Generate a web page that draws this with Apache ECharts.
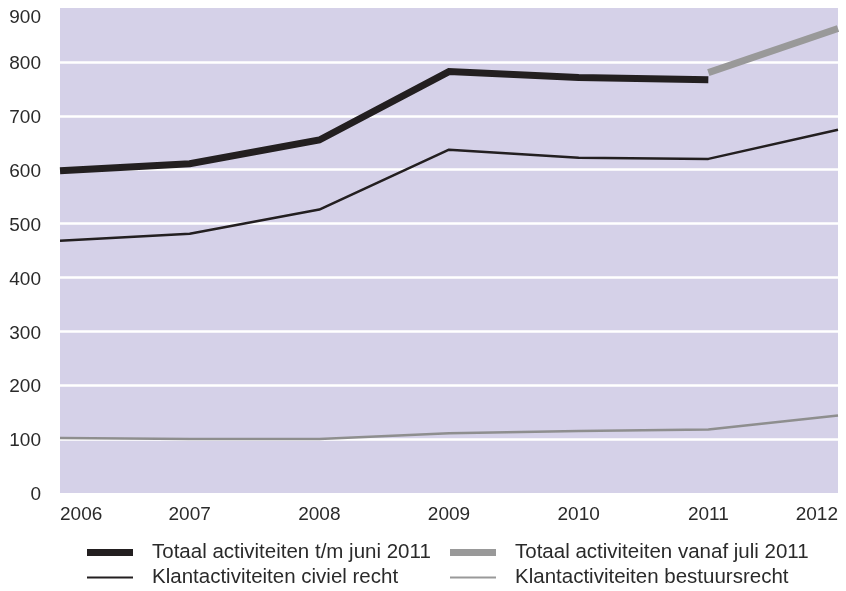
<!DOCTYPE html>
<html>
<head>
<meta charset="utf-8">
<script src="https://cdn.jsdelivr.net/npm/echarts@6/dist/echarts.min.js"></script>
<style>
  html, body { margin: 0; padding: 0; background: #ffffff; }
  #chart { width: 846px; height: 591px; }
</style>
</head>
<body>
<div id="chart"></div>
<script>
// Activity counts per year
const years = ['2006', '2007', '2008', '2009', '2010', '2011', '2012'];
const totaalTotJuni2011 = [598, 611, 655, 782, 771, 767, null];
const totaalVanafJuli2011 = [null, null, null, null, null, 780, 862];
const civielRecht = [468, 481, 526, 637, 622, 620, 674];
const bestuursRecht = [102, 100, 100, 111, 115, 118, 144];
const yTicks = [0, 100, 200, 300, 400, 500, 600, 700, 800, 900];

const names = [
  'Totaal activiteiten t/m juni 2011',
  'Totaal activiteiten vanaf juli 2011',
  'Klantactiviteiten civiel recht',
  'Klantactiviteiten bestuursrecht'
];

const FONT = '"Liberation Sans", Arial, sans-serif';
const TEXT = '#2a2a2a';

const chart = echarts.init(document.getElementById('chart'), null, { renderer: 'canvas' });

function legendFor(name, color, h, left, top) {
  return {
    data: [{ name: name, icon: 'rect', itemStyle: { color: color } }],
    left: left,
    top: top,
    itemWidth: 46,
    itemHeight: h,
    padding: 0,
    selectedMode: false,
    textStyle: {
      fontFamily: FONT,
      fontSize: 20.5,
      color: TEXT,
      padding: [0, 0, 0, 14]
    }
  };
}

chart.setOption({
  animation: false,
  backgroundColor: '#ffffff',
  grid: {
    left: 60,
    right: 8,
    top: 8,
    bottom: 98,
    show: true,
    backgroundColor: '#d5d1e8',
    borderWidth: 0
  },
  legend: [
    legendFor(names[0], '#231f20', 7, 87, 542),
    legendFor(names[1], '#999999', 7, 450, 542),
    legendFor(names[2], '#231f20', 2, 87, 567),
    legendFor(names[3], '#999999', 2, 450, 567)
  ],
  xAxis: {
    type: 'category',
    data: years,
    boundaryGap: false,
    axisLine: { show: false },
    axisTick: { show: false },
    splitLine: { show: false },
    axisLabel: {
      margin: 12,
      fontFamily: FONT,
      fontSize: 19,
      color: TEXT,
      alignMinLabel: 'left',
      alignMaxLabel: 'right',
      padding: [0, 0, 0, 0]
    }
  },
  yAxis: {
    type: 'value',
    min: yTicks[0],
    max: yTicks[yTicks.length - 1],
    interval: 100,
    axisLine: { show: false },
    axisTick: { show: false },
    splitLine: {
      show: true,
      showMinLine: false,
      showMaxLine: false,
      lineStyle: { color: '#ffffff', width: 2.5 }
    },
    axisLabel: {
      margin: 19,
      fontFamily: FONT,
      fontSize: 19,
      color: TEXT,
      formatter: function (v) {
        return v === yTicks[yTicks.length - 1] ? '{top|' + v + '}' : '{n|' + v + '}';
      },
      rich: {
        top: { fontFamily: FONT, fontSize: 19, color: TEXT, padding: [19, 0, 0, 0] },
        n: { fontFamily: FONT, fontSize: 19, color: TEXT, padding: [4, 0, 0, 0] }
      }
    }
  },
  series: [
    {
      name: names[3],
      type: 'line',
      data: bestuursRecht,
      showSymbol: false,
      lineStyle: { color: '#8e8e8e', width: 2.5 },
      itemStyle: { color: '#999999' }
    },
    {
      name: names[2],
      type: 'line',
      data: civielRecht,
      showSymbol: false,
      lineStyle: { color: '#231f20', width: 2.5 },
      itemStyle: { color: '#231f20' }
    },
    {
      name: names[0],
      type: 'line',
      data: totaalTotJuni2011,
      showSymbol: false,
      lineStyle: { color: '#231f20', width: 7, cap: 'butt', join: 'miter' },
      itemStyle: { color: '#231f20' }
    },
    {
      name: names[1],
      type: 'line',
      data: totaalVanafJuli2011,
      showSymbol: false,
      lineStyle: { color: '#999999', width: 7, cap: 'butt' },
      itemStyle: { color: '#999999' }
    }
  ]
});
</script>
</body>
</html>
